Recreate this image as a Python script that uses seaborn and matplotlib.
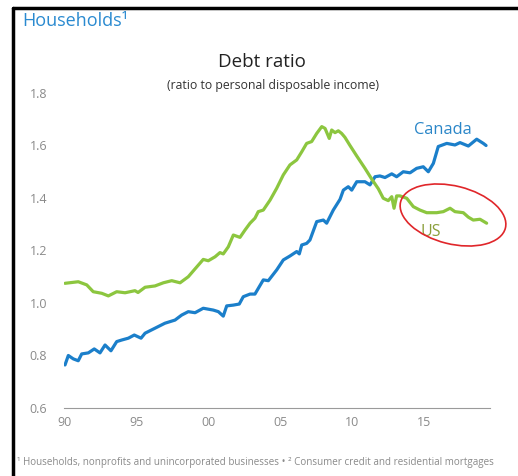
import pandas as pd
import matplotlib.pyplot as plt
import seaborn as sns
from matplotlib.patches import Ellipse
from matplotlib.lines import Line2D
from matplotlib.transforms import IdentityTransform

# ==========================================
# data (year, debt / disposable income)
# ==========================================
canada_year = [1990.07, 1990.30, 1990.65, 1990.99, 1991.23, 1991.69, 1992.10, 1992.50, 1992.85,
               1993.26, 1993.66, 1994.01, 1994.47, 1994.88, 1995.35, 1995.63, 1996.32, 1997.01,
               1997.71, 1998.17, 1998.63, 1999.10, 1999.67, 2000.37, 2000.72, 2001.06, 2001.30,
               2001.76, 2002.17, 2002.45, 2002.92, 2003.26, 2003.84, 2004.19, 2004.77, 2005.23,
               2005.69, 2006.16, 2006.34, 2006.51, 2006.85, 2007.08, 2007.55, 2008.01, 2008.24,
               2008.70, 2009.17, 2009.40, 2009.74, 2009.98, 2010.33, 2010.90, 2011.25, 2011.60,
               2011.94, 2012.29, 2012.76, 2013.10, 2013.56, 2014.03, 2014.49, 2014.95, 2015.30,
               2015.65, 2015.99, 2016.58, 2017.15, 2017.50, 2018.08, 2018.66, 2019.12, 2019.31]
canada_val = [0.764, 0.800, 0.787, 0.780, 0.806, 0.810, 0.825, 0.810, 0.840,
              0.818, 0.853, 0.859, 0.866, 0.878, 0.866, 0.885, 0.904, 0.923,
              0.935, 0.954, 0.967, 0.963, 0.980, 0.973, 0.967, 0.950, 0.989,
              0.992, 0.996, 1.024, 1.034, 1.034, 1.088, 1.085, 1.126, 1.164,
              1.179, 1.196, 1.187, 1.221, 1.227, 1.240, 1.310, 1.316, 1.304,
              1.354, 1.395, 1.430, 1.443, 1.430, 1.462, 1.462, 1.450, 1.481,
              1.484, 1.478, 1.492, 1.481, 1.500, 1.496, 1.513, 1.519, 1.500,
              1.532, 1.596, 1.608, 1.602, 1.611, 1.598, 1.624, 1.608, 1.600]

us_year = [1990.07, 1990.99, 1991.58, 1992.03, 1992.62, 1993.08, 1993.66, 1994.24, 1994.93,
           1995.14, 1995.63, 1996.32, 1996.90, 1997.48, 1998.06, 1998.63, 1999.10, 1999.67,
           2000.02, 2000.49, 2000.83, 2001.06, 2001.41, 2001.76, 2002.22, 2002.57, 2002.92,
           2003.26, 2003.49, 2003.84, 2004.31, 2004.77, 2005.23, 2005.69, 2006.16, 2006.51,
           2006.85, 2007.20, 2007.55, 2007.90, 2008.13, 2008.42, 2008.59, 2008.82, 2009.05,
           2009.28, 2009.51, 2009.86, 2010.33, 2010.90, 2011.37, 2011.83, 2012.17, 2012.52,
           2012.76, 2012.92, 2013.10, 2013.33, 2013.80, 2014.26, 2014.72, 2015.19, 2015.88,
           2016.34, 2016.81, 2017.15, 2017.73, 2018.08, 2018.42, 2018.89, 2019.35]
us_val = [1.075, 1.081, 1.069, 1.043, 1.037, 1.027, 1.043, 1.039, 1.047,
          1.040, 1.060, 1.065, 1.077, 1.085, 1.077, 1.100, 1.130, 1.166,
          1.161, 1.176, 1.192, 1.187, 1.214, 1.259, 1.250, 1.278, 1.304,
          1.323, 1.348, 1.354, 1.392, 1.437, 1.488, 1.526, 1.545, 1.576,
          1.608, 1.615, 1.646, 1.672, 1.665, 1.627, 1.659, 1.649, 1.656,
          1.646, 1.631, 1.600, 1.560, 1.513, 1.472, 1.435, 1.399, 1.390,
          1.405, 1.361, 1.408, 1.408, 1.399, 1.367, 1.354, 1.344, 1.344,
          1.348, 1.361, 1.348, 1.344, 1.327, 1.316, 1.319, 1.304]

x_ticks = [1990, 1995, 2000, 2005, 2010, 2015]
x_tick_labels = ['90', '95', '00', '05', '10', '15']
y_ticks = [0.6, 0.8, 1.0, 1.2, 1.4, 1.6, 1.8]

colors = {'Canada': '#1b7fca', 'US': '#8cc63f'}

df = pd.concat([
    pd.DataFrame({'year': canada_year, 'ratio': canada_val, 'country': 'Canada'}),
    pd.DataFrame({'year': us_year, 'ratio': us_val, 'country': 'US'}),
], ignore_index=True)

# ==========================================
# figure
# ==========================================
sns.set_style('white')
plt.rcParams['font.family'] = ['Open Sans', 'DejaVu Sans']

W, H = 518, 476
fig = plt.figure(figsize=(W / 100, H / 100), dpi=100)
ax = fig.add_axes([64 / W, 1 - 408 / H, (490 - 64) / W, (408 - 93) / H])

sns.lineplot(data=df, x='year', y='ratio', hue='country', palette=colors,
             linewidth=2.3, ax=ax, legend=False, estimator=None, sort=False)

ax.set_xlim(1990, 1990 + (490 - 64) / 14.4)
ax.set_ylim(0.6, 1.8)
ax.set_xticks(x_ticks)
ax.set_xticklabels(x_tick_labels)
ax.set_yticks(y_ticks)
ax.set_yticklabels([f'{v:.1f}' for v in y_ticks])
ax.set_xlabel('')
ax.set_ylabel('')
for s in ['top', 'right', 'left']:
    ax.spines[s].set_visible(False)
ax.spines['bottom'].set_color('#9a9a9a')
ax.spines['bottom'].set_linewidth(0.8)
ax.tick_params(axis='x', direction='in', length=4, color='#9a9a9a', width=0.8,
               labelsize=9, labelcolor='#8a8a8a', pad=6)
ax.tick_params(axis='y', length=0, labelsize=9, labelcolor='#8a8a8a', pad=12)

# series labels
ax.text(2016.3, 1.66, 'Canada', color='#2a86c8', fontsize=11.8, ha='center', va='center')
ax.text(2015.5, 1.27, 'US', color='#8a9f3a', fontsize=11.5, ha='center', va='center')

# titles and footnote
fig.text(22 / W, 1 - 21 / H, 'Households\u00b9', color='#2a8ad0', fontsize=13, ha='left', va='center')
fig.text(262 / W, 1 - 62 / H, 'Debt ratio', color='#222222', fontsize=13.5, ha='center', va='center')
fig.text(273 / W, 1 - 86 / H, '(ratio to personal disposable income)', color='#333333',
         fontsize=8.8, ha='center', va='center')
fig.text(17 / W, 1 - 463 / H,
         '\u00b9 Households, nonprofits and unincorporated businesses \u2022 \u00b2 Consumer credit and residential mortgages',
         color='#8a8a8a', fontsize=7.1, ha='left', va='center')

# red ellipse highlight (pixel coordinates)
fig.patches.append(Ellipse((453, H - 215), 108, 58, angle=-14, fill=False,
                           edgecolor='#e0262a', linewidth=1.2, transform=IdentityTransform()))

# black frame on left and top
fig.lines.append(Line2D([13 / W, 13 / W], [0, 1 - 8 / H], color='black', linewidth=2.5,
                        transform=fig.transFigure))
fig.lines.append(Line2D([13 / W, 1], [1 - 8 / H, 1 - 8 / H], color='black', linewidth=2.5,
                        transform=fig.transFigure))

fig.savefig('out.png', dpi=100)
